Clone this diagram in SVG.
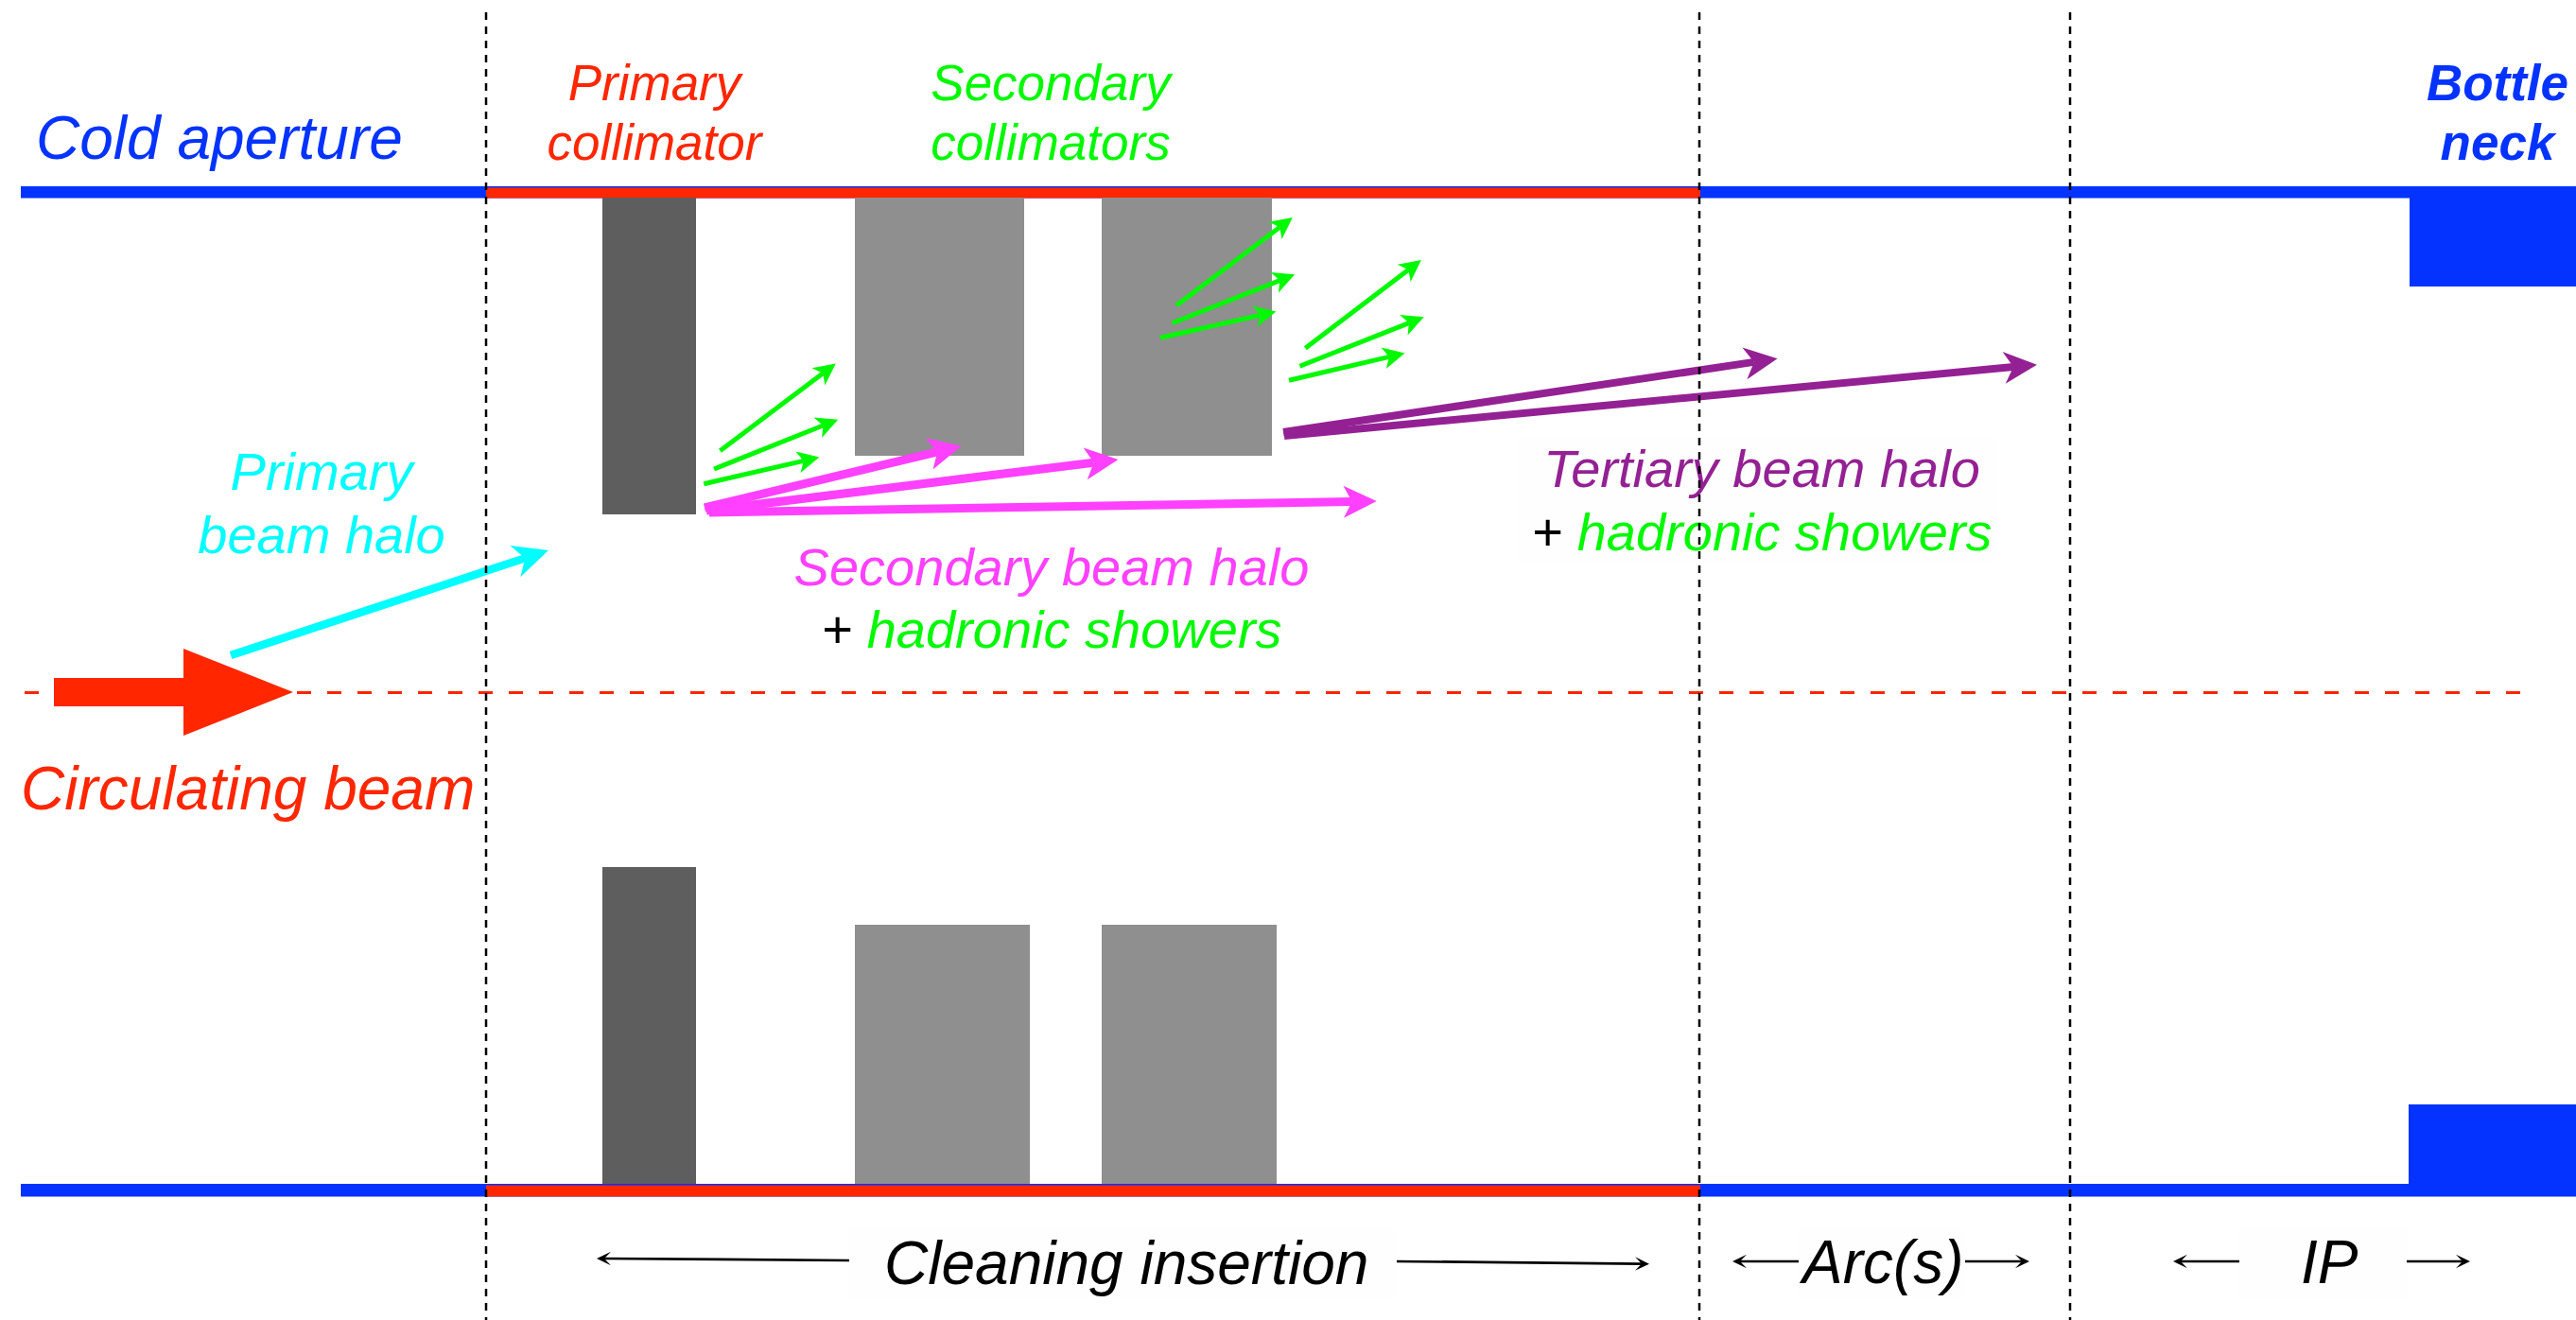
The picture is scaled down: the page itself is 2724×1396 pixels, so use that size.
<svg xmlns="http://www.w3.org/2000/svg" width="2724" height="1396" viewBox="0 0 2724 1396">
<style>
.t{font-family:"Liberation Sans",Arial,Helvetica,sans-serif;font-style:italic}
.b{font-weight:bold}
.vd{stroke:#000;stroke-width:2.5;stroke-dasharray:8 7;fill:none}
.dark{fill:#5e5e5e}
.grey{fill:#8f8f8f}
.cy{stroke:#00fdff;stroke-width:8.5;fill:none}
.mg{stroke:#ff40ff;stroke-width:9;fill:none}
.pu{stroke:#942193;stroke-width:8;fill:none}
.gr{stroke:#00f900;stroke-width:5;fill:none}
.bk{stroke:#000;stroke-width:2.7;fill:none}
.faint{fill:#fefefe}
</style>
<defs>
<marker id="hCy" markerUnits="userSpaceOnUse" orient="auto" refX="0" refY="0" markerWidth="80" markerHeight="80" viewBox="-40 -40 80 80" overflow="visible"><path d="M26,0 L-11,-17.5 L0,0 L-11,17.5 Z" fill="#00fdff"/></marker>
<marker id="hMg" markerUnits="userSpaceOnUse" orient="auto" refX="0" refY="0" markerWidth="80" markerHeight="80" viewBox="-40 -40 80 80" overflow="visible"><path d="M26,0 L-9,-17 L0,0 L-9,17 Z" fill="#ff40ff"/></marker>
<marker id="hPu" markerUnits="userSpaceOnUse" orient="auto" refX="0" refY="0" markerWidth="80" markerHeight="80" viewBox="-40 -40 80 80" overflow="visible"><path d="M25,0 L-10,-17 L0,0 L-10,17 Z" fill="#942193"/></marker>
<marker id="hGr" markerUnits="userSpaceOnUse" orient="auto" refX="0" refY="0" markerWidth="60" markerHeight="60" viewBox="-30 -30 60 60" overflow="visible"><path d="M17,0 L-6,-11.5 L0,0 L-6,11.5 Z" fill="#00f900"/></marker>
<marker id="hBk" markerUnits="userSpaceOnUse" orient="auto" refX="0" refY="0" markerWidth="40" markerHeight="40" viewBox="-20 -20 40 40" overflow="visible"><path d="M8,0 L-7,-7.3 L0,0 L-7,7.3 Z" fill="#000"/></marker>
</defs>
<rect width="2724" height="1396" fill="#fff"/>

<g id="label-backgrounds">
<rect class="faint" x="1605" y="462" width="507" height="133"/>
<rect class="faint" x="898" y="1299" width="578" height="73"/>
<rect class="faint" x="1902" y="1299" width="176" height="73"/>
<rect class="faint" x="2368" y="1299" width="177" height="73"/>
</g>

<g id="top-rail">
<rect x="22" y="197" width="2702" height="12.5" fill="#0433ff"/>
<rect x="514" y="198.5" width="1284" height="11" fill="#ff2600"/>
</g>
<g id="bottom-rail">
<rect x="22" y="1252" width="2702" height="13.5" fill="#0433ff"/>
<rect x="514" y="1253.5" width="1284" height="12" fill="#ff2600"/>
</g>
<g id="bottleneck-top"><rect x="2548" y="203" width="176" height="100" fill="#0433ff"/></g>
<g id="bottleneck-bottom"><rect x="2547" y="1168" width="177" height="90" fill="#0433ff"/></g>

<g id="primary-collimator-top"><rect class="dark" x="637" y="209" width="99" height="335"/></g>
<g id="secondary-collimator-1-top"><rect class="grey" x="904" y="209" width="179" height="273"/></g>
<g id="secondary-collimator-2-top"><rect class="grey" x="1165" y="209" width="180" height="273"/></g>
<g id="primary-collimator-bottom"><rect class="dark" x="637" y="917" width="99" height="335"/></g>
<g id="secondary-collimator-1-bottom"><rect class="grey" x="904" y="978" width="185" height="274"/></g>
<g id="secondary-collimator-2-bottom"><rect class="grey" x="1165" y="978" width="185" height="274"/></g>

<g id="beam-axis">
<line x1="26" y1="732.5" x2="2672" y2="732.5" stroke="#ff2600" stroke-width="3" stroke-dasharray="15 17"/>
</g>
<g id="circulating-beam-arrow">
<polygon points="57,717 194,717 194,686 310,732 194,778 194,747 57,747" fill="#ff2600"/>
</g>

<g id="connectors">
<line class="cy" x1="244" y1="693" x2="555.3" y2="590.2" marker-end="url(#hCy)"/>
<line class="gr" x1="761.5" y1="476.7" x2="870.2" y2="394.8" marker-end="url(#hGr)"/>
<line class="gr" x1="755.1" y1="496" x2="870.4" y2="450" marker-end="url(#hGr)"/>
<line class="gr" x1="744.3" y1="511.7" x2="849.8" y2="487.4" marker-end="url(#hGr)"/>
<line class="gr" x1="1244" y1="323" x2="1353.3" y2="240.2" marker-end="url(#hGr)"/>
<line class="gr" x1="1239.6" y1="341.7" x2="1353.3" y2="296.6" marker-end="url(#hGr)"/>
<line class="gr" x1="1227" y1="357.3" x2="1332.8" y2="333.3" marker-end="url(#hGr)"/>
<line class="gr" x1="1380.3" y1="368.3" x2="1489.4" y2="285.2" marker-end="url(#hGr)"/>
<line class="gr" x1="1374.5" y1="387.3" x2="1489.9" y2="341.6" marker-end="url(#hGr)"/>
<line class="gr" x1="1363" y1="402.3" x2="1469" y2="377.4" marker-end="url(#hGr)"/>
<line class="mg" x1="745" y1="537" x2="991.3" y2="477.8" marker-end="url(#hMg)"/>
<line class="mg" x1="747" y1="540" x2="1156.6" y2="489.2" marker-end="url(#hMg)"/>
<line class="mg" x1="750" y1="542" x2="1429.7" y2="530.5" marker-end="url(#hMg)"/>
<line class="pu" x1="1357" y1="457" x2="1854.8" y2="382.9" marker-end="url(#hPu)"/>
<line class="pu" x1="1358" y1="461" x2="2129.1" y2="388" marker-end="url(#hPu)"/>
<line class="bk" x1="898" y1="1333" x2="639" y2="1331" marker-end="url(#hBk)"/>
<line class="bk" x1="1477" y1="1334" x2="1736" y2="1336.6" marker-end="url(#hBk)"/>
<line class="bk" x1="1902" y1="1334" x2="1840" y2="1334" marker-end="url(#hBk)"/>
<line class="bk" x1="2078" y1="1334" x2="2138" y2="1334" marker-end="url(#hBk)"/>
<line class="bk" x1="2368" y1="1334" x2="2306" y2="1334" marker-end="url(#hBk)"/>
<line class="bk" x1="2545" y1="1334" x2="2604" y2="1334" marker-end="url(#hBk)"/>
</g>

<g id="labels">
<text class="t" x="38" y="168" font-size="64" fill="#0433ff">Cold aperture</text>
<text class="t" font-size="53" fill="#ff2600" text-anchor="middle"><tspan x="692" y="106">Primary</tspan><tspan x="692" y="169">collimator</tspan></text>
<text class="t" font-size="53" fill="#00f900" text-anchor="middle"><tspan x="1111" y="106">Secondary</tspan><tspan x="1111" y="169">collimators</tspan></text>
<text class="t b" font-size="53" fill="#0433ff" text-anchor="middle"><tspan x="2641" y="106">Bottle</tspan><tspan x="2641" y="169">neck</tspan></text>
<text class="t" font-size="56" fill="#00fdff" text-anchor="middle"><tspan x="340" y="518">Primary</tspan><tspan x="340" y="585">beam halo</tspan></text>
<text class="t" x="22" y="856" font-size="64" fill="#ff2600">Circulating beam</text>
<text class="t" x="1112" y="619" font-size="56" fill="#ff40ff" text-anchor="middle">Secondary beam halo</text>
<text class="t" x="1112" y="685" font-size="56" text-anchor="middle"><tspan fill="#000">+ </tspan><tspan fill="#00f900">hadronic showers</tspan></text>
<text class="t" x="1863" y="515" font-size="56" fill="#942193" text-anchor="middle">Tertiary beam halo</text>
<text class="t" x="1863" y="582" font-size="56" text-anchor="middle"><tspan fill="#000">+ </tspan><tspan fill="#00f900">hadronic showers</tspan></text>
<text class="t" x="935" y="1358" font-size="64" fill="#000">Cleaning insertion</text>
<text class="t" x="1906" y="1357" font-size="64" fill="#000">Arc(s)</text>
<text class="t" x="2433" y="1357" font-size="64" fill="#000">IP</text>
</g>

<g id="section-dividers">
<line class="vd" x1="514" y1="13" x2="514" y2="1396"/>
<line class="vd" x1="1797" y1="13" x2="1797" y2="1396"/>
<line class="vd" x1="2189" y1="13" x2="2189" y2="1396"/>
</g>
</svg>
